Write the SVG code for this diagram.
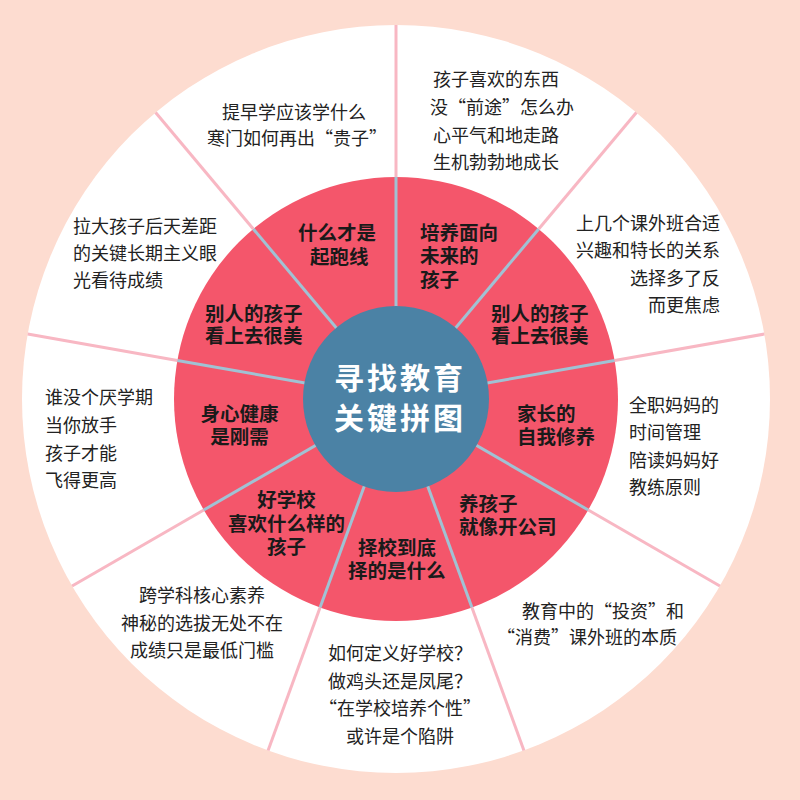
<svg xmlns="http://www.w3.org/2000/svg" width="800" height="800" viewBox="0 0 800 800">
<style>
.o{font-family:"Noto Sans CJK SC","Noto Sans",sans-serif;font-size:18px;fill:#222}
.r{font-family:"Noto Sans CJK SC","Noto Sans",sans-serif;font-size:19.5px;font-weight:bold;fill:#1a1a1a}
.c{font-family:"Noto Sans CJK SC","Noto Sans",sans-serif;font-size:30px;font-weight:bold;fill:#fff;letter-spacing:3px}
.m{text-anchor:middle}
.e{text-anchor:end}
.pl{stroke:#f8b7c3;stroke-width:3;fill:none}
.bl{stroke:#a0c2d4;stroke-width:3;fill:none}
</style>
<rect x="0" y="0" width="800" height="800" fill="#fddcd0"/>
<circle id="outer-ring" cx="396" cy="399" r="374" fill="#ffffff"/>
<circle id="inner-ring" cx="396" cy="399" r="222" fill="#f4566b"/>
<g id="connectors">
<line class="bl" x1="396" y1="399" x2="396" y2="177"/>
<line class="pl" x1="396" y1="177" x2="396" y2="25"/>
<line class="bl" x1="396" y1="399" x2="538.70" y2="228.94"/>
<line class="pl" x1="538.70" y1="228.94" x2="636.40" y2="112.50"/>
<line class="bl" x1="396" y1="399" x2="614.63" y2="360.45"/>
<line class="pl" x1="614.63" y1="360.45" x2="764.32" y2="334.06"/>
<line class="bl" x1="396" y1="399" x2="588.26" y2="510"/>
<line class="pl" x1="588.26" y1="510" x2="719.89" y2="586"/>
<line class="bl" x1="396" y1="399" x2="471.93" y2="607.61"/>
<line class="pl" x1="471.93" y1="607.61" x2="523.92" y2="750.44"/>
<line class="bl" x1="396" y1="399" x2="320.07" y2="607.61"/>
<line class="pl" x1="320.07" y1="607.61" x2="268.08" y2="750.44"/>
<line class="bl" x1="396" y1="399" x2="203.74" y2="510"/>
<line class="pl" x1="203.74" y1="510" x2="72.11" y2="586"/>
<line class="bl" x1="396" y1="399" x2="177.37" y2="360.45"/>
<line class="pl" x1="177.37" y1="360.45" x2="27.68" y2="334.06"/>
<line class="bl" x1="396" y1="399" x2="253.30" y2="228.94"/>
<line class="pl" x1="253.30" y1="228.94" x2="155.60" y2="112.50"/>
</g>
<g id="center">
<circle cx="396" cy="399" r="93" fill="#4b82a5"/>
<text class="c m"><tspan x="400" y="389">寻找教育</tspan><tspan x="400" y="429">关键拼图</tspan></text>
</g>
<g id="sector-1">
<text class="r"><tspan x="298" y="239.5">什么才是</tspan><tspan x="310" y="263.5">起跑线</tspan></text>
<text class="o" x="222" y="119">提早学应该学什么</text>
<text class="o" x="207" y="145">寒门如何再出“贵子”</text>
</g>
<g id="sector-2">
<text class="r"><tspan x="420" y="239.5">培养面向</tspan><tspan x="420" y="263">未来的</tspan><tspan x="420" y="286.5">孩子</tspan></text>
<text class="o" x="433" y="86">孩子喜欢的东西</text>
<text class="o" x="430" y="114">没“前途”怎么办</text>
<text class="o" x="433" y="141.5">心平气和地走路</text>
<text class="o" x="433" y="169">生机勃勃地成长</text>
</g>
<g id="sector-3">
<text class="r"><tspan x="491" y="320.5">别人的孩子</tspan><tspan x="491" y="342.5">看上去很美</tspan></text>
<text class="o e" x="720" y="230">上几个课外班合适</text>
<text class="o e" x="720" y="257">兴趣和特长的关系</text>
<text class="o e" x="720" y="285">选择多了反</text>
<text class="o e" x="720" y="312">而更焦虑</text>
</g>
<g id="sector-4">
<text class="r"><tspan x="517" y="420.5">家长的</tspan><tspan x="517" y="443.5">自我修养</tspan></text>
<text class="o" x="629" y="412">全职妈妈的</text>
<text class="o" x="629" y="439">时间管理</text>
<text class="o" x="629" y="467">陪读妈妈好</text>
<text class="o" x="629" y="494">教练原则</text>
</g>
<g id="sector-5">
<text class="r"><tspan x="459" y="510.5">养孩子</tspan><tspan x="459" y="533.5">就像开公司</tspan></text>
<text class="o" x="522" y="618">教育中的“投资”和</text>
<text class="o" x="497" y="644">“消费”课外班的本质</text>
</g>
<g id="sector-6">
<text class="r"><tspan x="358" y="554.5">择校到底</tspan><tspan x="348" y="577.5">择的是什么</tspan></text>
<text class="o m" x="400" y="660">如何定义好学校？</text>
<text class="o m" x="400" y="688">做鸡头还是凤尾？</text>
<text class="o m" x="400" y="715">“在学校培养个性”</text>
<text class="o m" x="400" y="743">或许是个陷阱</text>
</g>
<g id="sector-7">
<text class="r m"><tspan x="286.5" y="506.5">好学校</tspan><tspan x="286.5" y="530.5">喜欢什么样的</tspan><tspan x="286.5" y="553.5">孩子</tspan></text>
<text class="o m" x="202" y="602">跨学科核心素养</text>
<text class="o m" x="202" y="630">神秘的选拔无处不在</text>
<text class="o m" x="202" y="657">成绩只是最低门槛</text>
</g>
<g id="sector-8">
<text class="r m"><tspan x="239.5" y="420.5">身心健康</tspan><tspan x="239.5" y="443.5">是刚需</tspan></text>
<text class="o" x="45" y="404">谁没个厌学期</text>
<text class="o" x="45" y="432">当你放手</text>
<text class="o" x="45" y="460">孩子才能</text>
<text class="o" x="45" y="487">飞得更高</text>
</g>
<g id="sector-9">
<text class="r"><tspan x="205" y="320.5">别人的孩子</tspan><tspan x="205" y="342.5">看上去很美</tspan></text>
<text class="o" x="73" y="233">拉大孩子后天差距</text>
<text class="o" x="73" y="260">的关键长期主义眼</text>
<text class="o" x="73" y="287">光看待成绩</text>
</g>
</svg>
